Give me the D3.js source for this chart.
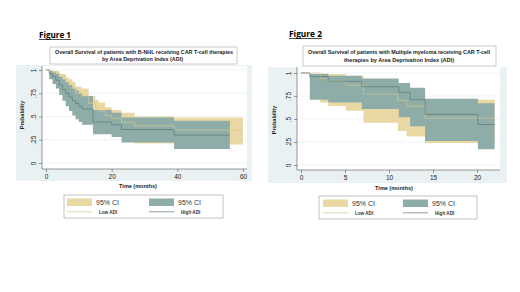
<!DOCTYPE html>
<html>
<head>
<meta charset="utf-8">
<script src="https://cdn.jsdelivr.net/npm/d3@7/dist/d3.min.js"></script>
<style>
  body { margin: 0; background: #fff; }
  text { font-family: "Liberation Sans", Arial, sans-serif; }
</style>
</head>
<body>
<div id="chart"></div>
<script>
// ---- data ----
// Figure 1: B-NHL
var fig1LowT  = [0, 2, 4, 6, 7, 8, 9, 11, 13, 15, 16, 18, 20, 23, 27, 39];
var fig1LowS  = [1, .97, .93, .87, .84, .80, .75, .72, .64, .60, .56, .51, .48, .44, .40, .355];
var fig1LowLo = [1, .88, .83, .77, .73, .69, .63, .60, .52, .48, .44, .39, .35, .31, .21, .20];
var fig1LowHi = [1, .99, .96, .92, .90, .87, .82, .80, .72, .68, .65, .60, .57, .54, .50, .49];
var fig1LowEnd = 60;

var fig1HighT  = [0, 1, 2, 3, 4, 5, 6, 7, 8, 9, 10, 11, 14.3, 20, 23, 39];
var fig1HighS  = [1, .96, .93, .89, .84, .79, .75, .71, .67, .64, .61, .58, .44, .41, .36, .30];
var fig1HighLo = [1, .90, .85, .80, .73, .67, .61, .56, .51, .47, .44, .41, .31, .28, .22, .15];
var fig1HighHi = [1, .99, .98, .96, .93, .90, .87, .84, .81, .78, .75, .72, .57, .54, .49, .455];
var fig1HighEnd = 56;

// Figure 2: Multiple myeloma
var fig2LowT  = [0, 2.2, 3.1, 5.1, 7.1, 11, 12, 14.1];
var fig2LowS  = [1, .94, .91, .87, .77, .70, .64, .51];
var fig2LowLo = [1, .68, .64, .59, .46, .37, .31, .24];
var fig2LowHi = [1, .995, .99, .97, .93, .88, .83, .71];
var fig2LowEnd = 22;

var fig2HighT  = [0, 1, 3.1, 6.9, 11.1, 12.4, 14.1, 20.1];
var fig2HighS  = [1, .96, .91, .85, .79, .71, .55, .44];
var fig2HighLo = [1, .71, .68, .61, .52, .42, .26, .17];
var fig2HighHi = [1, .99, .97, .94, .89, .84, .72, .67];
var fig2HighEnd = 22;

var yTicks = [0, .25, .5, .75, 1];
var yTickLabels = ["0", ".25", ".5", ".75", "1"];
var fig1XTicks = [0, 20, 40, 60];
var fig2XTicks = [0, 5, 10, 15, 20];

var sand = "#e9d8a3", teal = "#8fada8",
    lowLine = "#d8c58c", highLine = "#5b7a75",
    regionBg = "#eaf1f3", gridCol = "#e4ecee";

var svg = d3.select("#chart")
  .append("svg")
    .attr("width", 520)
    .attr("height", 292);

function kmPoints(t, s, lo, hi, end) {
  var pts = t.map(function(d, i) { return {t: d, s: s[i], lo: lo[i], hi: hi[i]}; });
  var last = pts[pts.length - 1];
  pts.push({t: end, s: last.s, lo: last.lo, hi: last.hi});
  return pts;
}

function drawFigure(o) {
  var g = svg.append("g");

  // figure label
  g.append("text")
    .attr("x", o.figX).attr("y", o.figY)
    .attr("font-size", 9.5).attr("font-weight", "bold")
    .style("font-family", "'Open Sans', sans-serif")
    .attr("textLength", o.figW).attr("lengthAdjust", "spacingAndGlyphs")
    .text(o.figLabel);
  g.append("line")
    .attr("x1", o.figX).attr("x2", o.figX + o.figW)
    .attr("y1", o.figY + 1.5).attr("y2", o.figY + 1.5)
    .attr("stroke", "#000").attr("stroke-width", 0.7);

  // graph region
  g.append("rect")
    .attr("x", o.reg[0]).attr("y", o.reg[1])
    .attr("width", o.reg[2] - o.reg[0]).attr("height", o.reg[3] - o.reg[1])
    .attr("fill", regionBg);
  g.append("rect")
    .attr("x", o.plot[0]).attr("y", o.plot[1])
    .attr("width", o.plot[2] - o.plot[0]).attr("height", o.plot[3] - o.plot[1])
    .attr("fill", "#fff");

  // title box
  g.append("rect")
    .attr("x", o.tbox[0]).attr("y", o.tbox[1])
    .attr("width", o.tbox[2] - o.tbox[0]).attr("height", o.tbox[3] - o.tbox[1])
    .attr("fill", "#fff").attr("stroke", "#a9a9a9").attr("stroke-width", 0.6);
  o.titles.forEach(function(tl) {
    g.append("text")
      .attr("x", tl.x).attr("y", tl.y)
      .attr("font-size", 5).attr("font-weight", "bold").attr("fill", "#222")
      .attr("textLength", tl.w).attr("lengthAdjust", "spacingAndGlyphs")
      .text(tl.text);
  });

  var x = d3.scaleLinear().domain([0, o.xRef]).range([o.x0, o.x1]);
  var y = d3.scaleLinear().domain([0, 1]).range([o.y0, o.y1]);

  // grid
  g.selectAll(".grid").data(yTicks).enter().append("line")
    .attr("x1", o.plot[0]).attr("x2", o.plot[2])
    .attr("y1", function(d) { return y(d); }).attr("y2", function(d) { return y(d); })
    .attr("stroke", gridCol).attr("stroke-width", 0.6);

  var area = d3.area()
    .curve(d3.curveStepAfter)
    .x(function(d) { return x(d.t); })
    .y0(function(d) { return y(d.lo); })
    .y1(function(d) { return y(d.hi); });
  var line = d3.line()
    .curve(d3.curveStepAfter)
    .x(function(d) { return x(d.t); })
    .y(function(d) { return y(d.s); });

  var low = kmPoints(o.low[0], o.low[1], o.low[2], o.low[3], o.low[4]);
  var high = kmPoints(o.high[0], o.high[1], o.high[2], o.high[3], o.high[4]);

  g.append("path").datum(low).attr("d", area).attr("fill", sand);
  g.append("path").datum(high).attr("d", area).attr("fill", teal);
  g.append("path").datum(low).attr("d", line)
    .attr("fill", "none").attr("stroke", lowLine).attr("stroke-width", 0.7);
  g.append("path").datum(high).attr("d", line)
    .attr("fill", "none").attr("stroke", highLine).attr("stroke-width", 0.7);

  // axes
  var xAxis = g.append("g")
    .attr("transform", "translate(0," + o.plot[3] + ")")
    .call(d3.axisBottom(x).tickValues(o.xTicks).tickSize(3).tickPadding(2));
  xAxis.select(".domain").attr("d", "M" + o.plot[0] + ",0H" + o.plot[2]);
  xAxis.selectAll("line, path").attr("stroke", "#555").attr("stroke-width", 0.6);
  xAxis.selectAll("text").attr("font-size", 6.5).attr("fill", "#222")
    .style("font-family", "'Liberation Sans', Arial, sans-serif");

  var yAxis = g.append("g")
    .attr("transform", "translate(" + o.plot[0] + ",0)")
    .call(d3.axisLeft(y).tickValues(yTicks).tickSize(3)
      .tickFormat(function(d, i) { return yTickLabels[i]; }));
  yAxis.select(".domain").attr("d", "M0," + o.plot[1] + "V" + o.plot[3]);
  yAxis.selectAll("line, path").attr("stroke", "#555").attr("stroke-width", 0.6);
  yAxis.selectAll("text")
    .attr("font-size", 6.5).attr("fill", "#222")
    .style("font-family", "'Liberation Sans', Arial, sans-serif")
    .attr("x", null).attr("dy", null)
    .attr("text-anchor", "middle")
    .attr("transform", "translate(-8,0) rotate(-90)")
    .attr("y", 0).attr("dy", "0.35em");

  // axis titles
  g.append("text")
    .attr("x", o.xTitle[0]).attr("y", o.xTitle[1])
    .attr("text-anchor", "middle").attr("font-size", 5.5).attr("font-weight", "bold")
    .attr("fill", "#222").text("Time (months)");
  g.append("text")
    .attr("transform", "translate(" + o.yTitle[0] + "," + o.yTitle[1] + ") rotate(-90)")
    .attr("text-anchor", "middle").attr("font-size", 5.5).attr("font-weight", "bold")
    .attr("fill", "#222").text("Probability");

  // legend
  var L = o.leg;
  g.append("rect")
    .attr("x", L.box[0]).attr("y", L.box[1])
    .attr("width", L.box[2] - L.box[0]).attr("height", L.box[3] - L.box[1])
    .attr("fill", "#fff").attr("stroke", "#9a9a9a").attr("stroke-width", 0.6);
  [[L.c1, sand, lowLine, "Low ADI"], [L.c2, teal, highLine, "High ADI"]].forEach(function(c) {
    g.append("rect")
      .attr("x", c[0]).attr("y", L.box[1] + 3.5)
      .attr("width", 25).attr("height", 7.5).attr("fill", c[1]);
    g.append("text")
      .attr("x", c[0] + 29).attr("y", L.box[1] + 10)
      .attr("font-size", 7).attr("fill", "#333").text("95% CI");
    g.append("line")
      .attr("x1", c[0]).attr("x2", c[0] + 25)
      .attr("y1", L.box[1] + 16.8).attr("y2", L.box[1] + 16.8)
      .attr("stroke", c[2]).attr("stroke-width", 0.7);
    g.append("text")
      .attr("x", c[0] + 32).attr("y", L.box[1] + 18.6)
      .attr("font-size", 4.6).attr("font-weight", "bold").attr("fill", "#333").text(c[3]);
  });
}

drawFigure({
  figLabel: "Figure 1", figX: 39, figY: 38, figW: 32,
  reg: [16, 65, 252, 181], plot: [42, 66, 247, 169],
  tbox: [50, 47, 237, 64],
  titles: [
    {text: "Overall Survival of patients with B-NHL receiving CAR T-cell therapies", x: 55, y: 54, w: 178},
    {text: "by Area Deprivation Index (ADI)", x: 102, y: 61, w: 81}
  ],
  xRef: 60, x0: 46, x1: 243, y0: 163, y1: 70,
  xTicks: fig1XTicks,
  low: [fig1LowT, fig1LowS, fig1LowLo, fig1LowHi, fig1LowEnd],
  high: [fig1HighT, fig1HighS, fig1HighLo, fig1HighHi, fig1HighEnd],
  xTitle: [138, 187.5], yTitle: [24, 115],
  leg: {box: [64, 195, 223, 218], c1: 67, c2: 149}
});

drawFigure({
  figLabel: "Figure 2", figX: 289, figY: 37, figW: 33,
  reg: [268, 67, 507, 183], plot: [297, 67, 500, 170],
  tbox: [303, 46, 496, 66],
  titles: [
    {text: "Overall Survival of patients with Multiple myeloma receiving CAR T-cell", x: 308, y: 54, w: 182},
    {text: "therapies by Area Deprivation Index (ADI)", x: 344, y: 62, w: 110}
  ],
  xRef: 20, x0: 301, x1: 477, y0: 165, y1: 73,
  xTicks: fig2XTicks,
  low: [fig2LowT, fig2LowS, fig2LowLo, fig2LowHi, fig2LowEnd],
  high: [fig2HighT, fig2HighS, fig2HighLo, fig2HighHi, fig2HighEnd],
  xTitle: [394, 190], yTitle: [276, 120],
  leg: {box: [319, 196, 477, 219], c1: 323, c2: 403}
});
</script>
</body>
</html>
